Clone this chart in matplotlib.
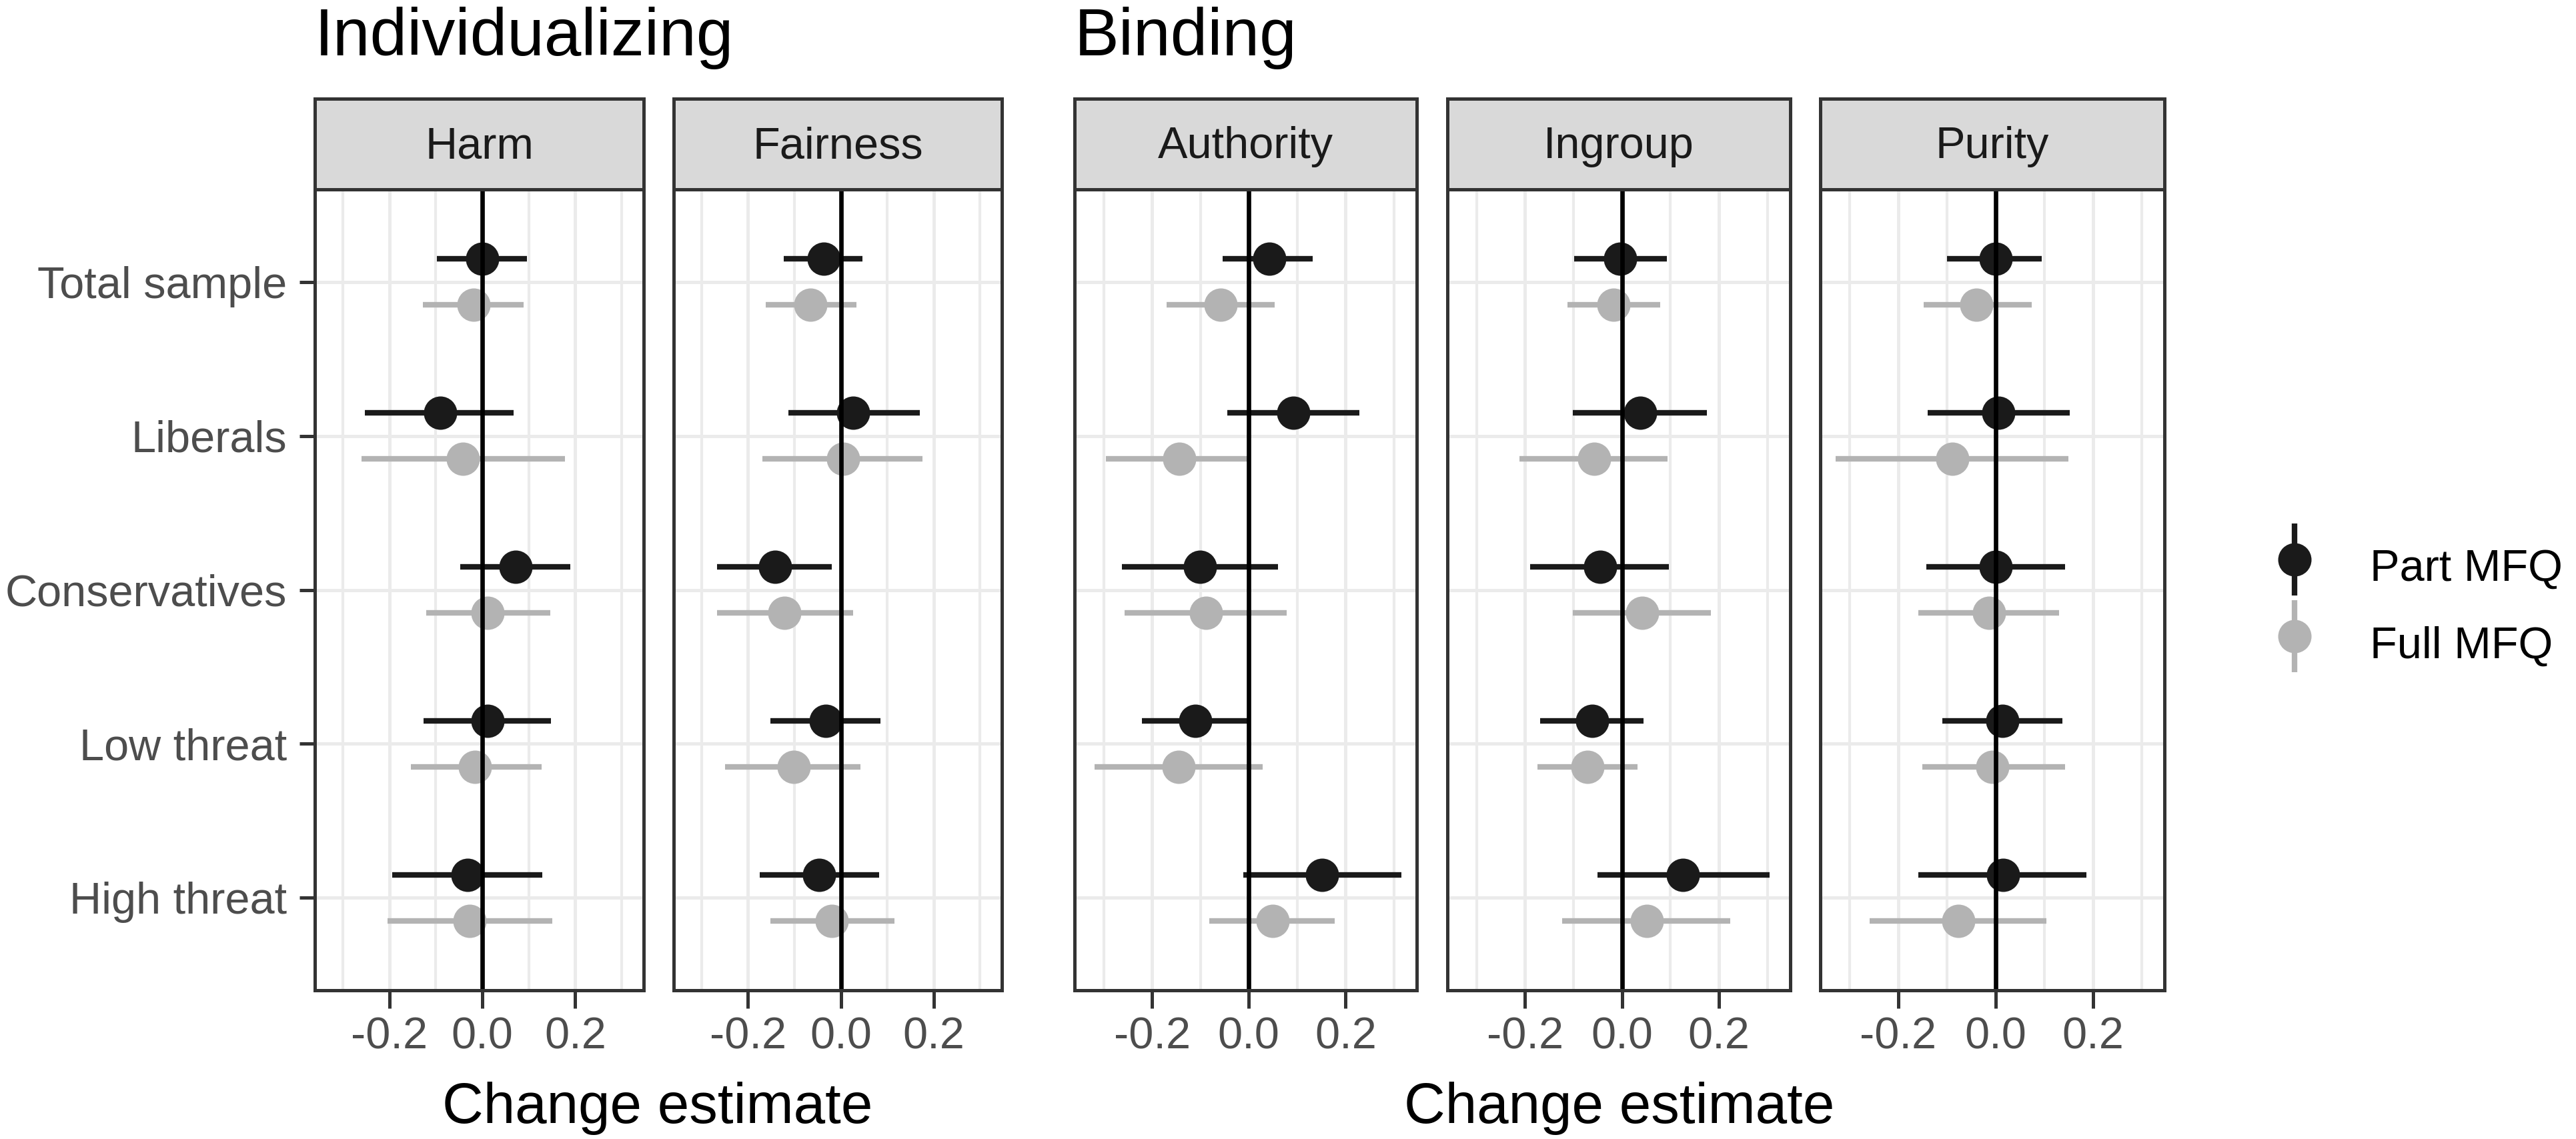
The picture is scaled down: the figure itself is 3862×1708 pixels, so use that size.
import matplotlib
matplotlib.use("Agg")
import matplotlib.pyplot as plt
from matplotlib.lines import Line2D
import numpy as np

plt.rcParams["font.family"] = ["Liberation Sans", "DejaVu Sans"]

# 資料：組別、道德基礎
groups = ["Total sample", "Liberals", "Conservatives", "Low threat", "High threat"]
foundations = ["Harm", "Fairness", "Authority", "Ingroup", "Purity"]
series = ["Part MFQ", "Full MFQ"]

# Part MFQ 估計值與信賴區間 (每列一個道德基礎，順序同 groups)
part_est = [[0.000, -0.091, 0.071, 0.011, -0.032],
            [-0.036, 0.027, -0.142, -0.032, -0.047],
            [0.043, 0.092, -0.101, -0.110, 0.151],
            [-0.004, 0.037, -0.045, -0.061, 0.126],
            [0.000, 0.006, 0.001, 0.014, 0.016]]
part_lo = [[-0.097, -0.253, -0.048, -0.126, -0.193],
           [-0.123, -0.113, -0.266, -0.152, -0.174],
           [-0.054, -0.044, -0.262, -0.221, -0.011],
           [-0.099, -0.101, -0.190, -0.169, -0.051],
           [-0.100, -0.139, -0.142, -0.109, -0.158]]
part_hi = [[0.096, 0.068, 0.189, 0.148, 0.129],
           [0.047, 0.170, -0.019, 0.085, 0.083],
           [0.132, 0.229, 0.061, -0.002, 0.315],
           [0.092, 0.175, 0.096, 0.044, 0.304],
           [0.095, 0.152, 0.143, 0.137, 0.187]]

# Full MFQ
full_est = [[-0.019, -0.042, 0.011, -0.016, -0.028],
            [-0.065, 0.005, -0.122, -0.102, -0.019],
            [-0.058, -0.143, -0.089, -0.145, 0.049],
            [-0.018, -0.058, 0.042, -0.071, 0.051],
            [-0.039, -0.089, -0.013, -0.006, -0.077]]
full_lo = [[-0.127, -0.260, -0.121, -0.154, -0.204],
           [-0.162, -0.169, -0.267, -0.250, -0.152],
           [-0.170, -0.295, -0.257, -0.319, -0.082],
           [-0.112, -0.211, -0.101, -0.174, -0.123],
           [-0.147, -0.328, -0.158, -0.150, -0.258]]
full_hi = [[0.089, 0.178, 0.146, 0.127, 0.151],
           [0.034, 0.176, 0.027, 0.042, 0.116],
           [0.053, -0.002, 0.078, 0.028, 0.178],
           [0.079, 0.094, 0.184, 0.032, 0.223],
           [0.075, 0.150, 0.131, 0.143, 0.105]]

xticks = [-0.2, 0.0, 0.2]
xtick_labels = ["-0.2", "0.0", "0.2"]

W, H = 3862, 1708
fig = plt.figure(figsize=(W / 300, H / 300), dpi=300)

black = "#1A1A1A"
gray = "#B3B3B3"
grid_col = "#EBEBEB"
border = "#333333"

# 面板位置 (像素)
panel_x = [(472, 965), (1010, 1502), (1611, 2124), (2170, 2684), (2729, 3245)]
top, bottom, strip_top = 284, 1485, 148

ypos = np.arange(1, len(groups) + 1)
dodge = 0.15

for k, name in enumerate(foundations):
    x0, x1 = panel_x[k]
    ax = fig.add_axes([x0 / W, 1 - bottom / H, (x1 - x0) / W, (bottom - top) / H])
    ax.set_xlim(-0.36, 0.347)
    ax.set_ylim(5.6, 0.4)

    # 格線
    for v in [-0.3, -0.1, 0.1, 0.3]:
        ax.axvline(v, color=grid_col, lw=1.0, zorder=0)
    for v in xticks:
        ax.axvline(v, color=grid_col, lw=1.2, zorder=0)
    for y in ypos:
        ax.axhline(y, color=grid_col, lw=1.2, zorder=0)

    # 兩組的點與區間
    for est, lo, hi, col, off in [(part_est[k], part_lo[k], part_hi[k], black, -dodge),
                                  (full_est[k], full_lo[k], full_hi[k], gray, dodge)]:
        yy = ypos + off
        ax.hlines(yy, lo, hi, color=col, lw=2.0, zorder=2)
        ax.plot(est, yy, "o", color=col, ms=12, mew=0, zorder=3)

    ax.axvline(0, color="black", lw=1.6, zorder=4)

    for s in ax.spines.values():
        s.set_color(border)
        s.set_linewidth(1.2)
        s.set_zorder(5)

    ax.set_xticks(xticks)
    ax.set_xticklabels(xtick_labels)
    ax.tick_params(axis="x", length=6.5, width=1.2, color=border, pad=3,
                   labelsize=16, labelcolor="#4D4D4D")
    ax.set_yticks(ypos)
    if k == 0:
        ax.set_yticklabels(groups)
        ax.tick_params(axis="y", length=5.5, width=1.2, color=border, pad=4.5,
                       labelsize=16, labelcolor="#4D4D4D")
    else:
        ax.tick_params(axis="y", length=0, labelleft=False)

    # 標題條
    sax = fig.add_axes([x0 / W, 1 - top / H, (x1 - x0) / W, (top - strip_top) / H])
    sax.set_facecolor("#D9D9D9")
    sax.set_xticks([])
    sax.set_yticks([])
    for s in sax.spines.values():
        s.set_color(border)
        s.set_linewidth(1.2)
    sax.text(0.5, 0.47, name, transform=sax.transAxes, ha="center", va="center",
             fontsize=16, color="#1A1A1A")

# 大標題
fig.text(472 / W, 1 - 83 / H, "Individualizing", fontsize=24, va="baseline", ha="left")
fig.text(1611 / W, 1 - 83 / H, "Binding", fontsize=24, va="baseline", ha="left")

# x 軸標題
fig.text(986 / W, 1 - 1684 / H, "Change estimate", fontsize=20.5, va="baseline", ha="center")
fig.text(2428 / W, 1 - 1684 / H, "Change estimate", fontsize=20.5, va="baseline", ha="center")

# 圖例
handles = []
for col in [black, gray]:
    vline = Line2D([], [], linestyle="none", marker="|", ms=26, mew=2.0, color=col)
    dot = Line2D([], [], linestyle="none", marker="o", ms=12, mew=0, color=col)
    handles.append((vline, dot))
fig.legend(handles, series, loc="center left", bbox_to_anchor=(3400 / W, 1 - 907 / H),
           frameon=False, fontsize=16, handlelength=1.2, handleheight=1.6,
           labelspacing=0.45, handletextpad=1.1, borderpad=0, borderaxespad=0)

fig.savefig("out.png", dpi=300)
